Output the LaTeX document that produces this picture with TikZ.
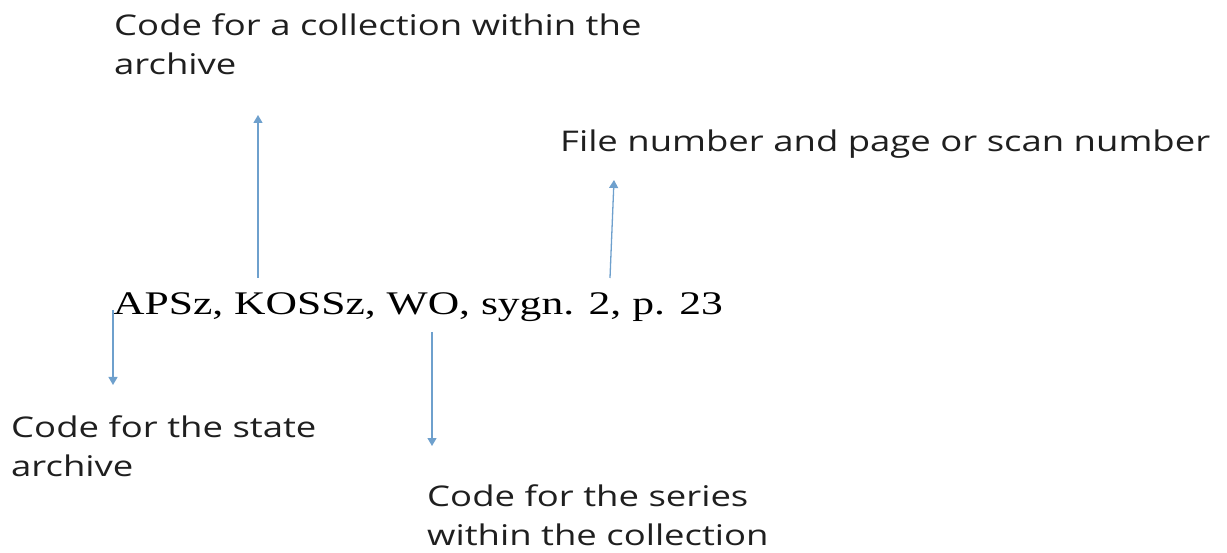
\documentclass[tikz,border=0pt]{standalone}
\usepackage{fontspec}
\setmainfont{Liberation Serif}
\newfontfamily\lblfont{Open Sans}
\usetikzlibrary{arrows.meta}
\definecolor{arrblue}{RGB}{110,160,205}
\newcommand{\lx}[1]{\scalebox{1.28}[1]{#1}}
\newcommand{\mx}[1]{\scalebox{1.32}[1]{#1}}
\tikzset{
  lbl/.style={font=\lblfont\fontsize{28.5}{39}\selectfont, text=black!88, inner sep=0pt, anchor=base west, align=left},
  mainref/.style={font=\fontsize{33}{38}\selectfont, inner sep=0pt, anchor=base west},
  pointer/.style={draw=arrblue, line width=1.3pt, -{Triangle[width=9pt,length=8pt]}}
}
\begin{document}
\begin{tikzpicture}[x=1pt,y=-1pt]
\useasboundingbox (0,0) rectangle (1227,553);
\node[lbl] (coll) at (114,75) {\lx{Code for a collection within the}\\\lx{archive}};
\node[lbl] (file) at (560,152) {\lx{File number and page or scan number}};
\node[mainref] (main) at (113,315) {\mx{APSz, KOSSz, WO, sygn. 2, p. 23}};
\node[lbl] (state) at (11,476) {\lx{Code for the state}\\\lx{archive}};
\node[lbl] (series) at (427,545) {\lx{Code for the series}\\\lx{within the collection}};
\coordinate (a1s) at (258,278);
\coordinate (a1e) at (258,115);
\coordinate (a2s) at (610,278);
\coordinate (a2e) at (614,180);
\coordinate (a3s) at (113,310);
\coordinate (a3e) at (113,385);
\coordinate (a4s) at (432,332);
\coordinate (a4e) at (432,446);
\draw[pointer] (a1s) -- (a1e);
\draw[pointer] (a2s) -- (a2e);
\draw[pointer] (a3s) -- (a3e);
\draw[pointer] (a4s) -- (a4e);
\end{tikzpicture}
\end{document}
